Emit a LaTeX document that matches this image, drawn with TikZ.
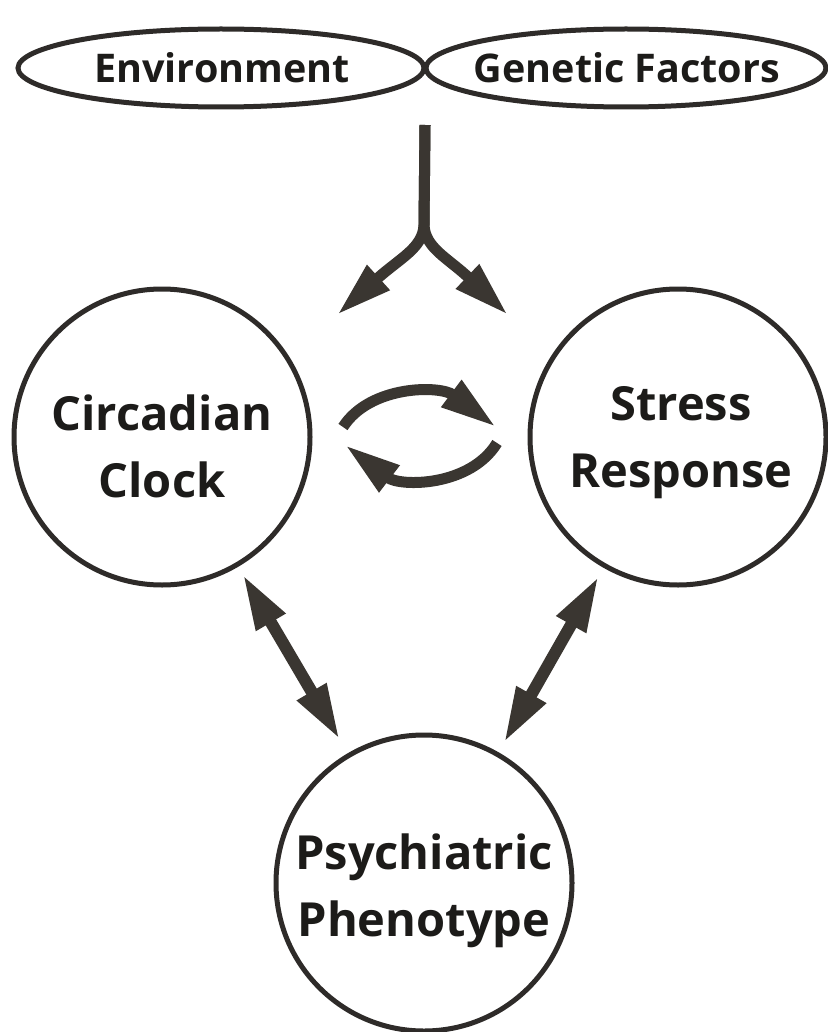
\documentclass[tikz,border=0pt]{standalone}
\usepackage{fontspec}
\setmainfont{Open Sans}
\usetikzlibrary{arrows.meta,shapes.geometric}
\definecolor{arr}{HTML}{3A3631}
\definecolor{edge}{HTML}{2E2B29}
\definecolor{ink}{HTML}{1C1B19}
\begin{document}
\begin{tikzpicture}[x=1pt,y=-1pt,
  bubble/.style={circle, draw=edge, line width=5pt, minimum size=296pt, inner sep=0pt},
  label text/.style={font=\bfseries\fontsize{47}{67}\selectfont, text=ink, align=center, inner sep=0pt},
  oval/.style={ellipse, draw=edge, line width=5pt, inner sep=0pt},
  oval text/.style={font=\bfseries\fontsize{39.5}{42}\selectfont, text=ink, inner sep=0pt},
  fat/.style={draw=arr, line width=11pt},
  head/.style={-{Triangle[length=56pt,width=31pt]}},
  dhead/.style={{Triangle[length=56pt,width=31pt]}-{Triangle[length=56pt,width=31pt]}},
]
\fill[white] (0,0) rectangle (827,1032);
\useasboundingbox (0,0) rectangle (827,1032);

% top ovals
\node[oval, minimum width=406pt, minimum height=78pt] (env) at (221,68) {};
\node[oval, minimum width=400pt, minimum height=78pt] (gen) at (626,68) {};
\node[oval text] (envt) at (222,68) {Environment};
\node[oval text] (gent) at (627,68) {Genetic Factors};

% circles
\node[bubble] (cc) at (162,437) {};
\node[bubble] (sr) at (678,437) {};
\node[bubble] (pp) at (424,883) {};
\node[label text] (cct) at (162,446) {Circadian\\Clock};
\node[label text] (srt) at (681,443) {Stress\\Response};
\node[label text] (ppt) at (424,891) {Psychiatric\\Phenotype};

% fork
\coordinate (ft) at (425,125);
\coordinate (fs) at (424,225);
\coordinate (fl) at (337,315);
\coordinate (fr) at (508,315);
\draw[fat,head] (ft) -- (fs) .. controls (423,248) and (400,258) .. (fl);
\draw[fat,head] (ft) -- (fs) .. controls (425,248) and (448,258) .. (fr);

% cycle between clock and stress
\coordinate (ua) at (343,427);
\coordinate (ub) at (496,427);
\coordinate (la) at (497,443);
\coordinate (lb) at (345,445);
\draw[fat,head] (ua) .. controls (370,385) and (440,385) .. (ub);
\draw[fat,head] (la) .. controls (470,487) and (400,487) .. (lb);

% double arrows
\draw[fat,line width=12pt,dhead,shorten <=159pt,shorten >=166pt] (cc.center) -- (pp.center);
\draw[fat,line width=12pt,dhead,shorten <=160pt,shorten >=161pt] (sr.center) -- (pp.center);
\end{tikzpicture}
\end{document}
